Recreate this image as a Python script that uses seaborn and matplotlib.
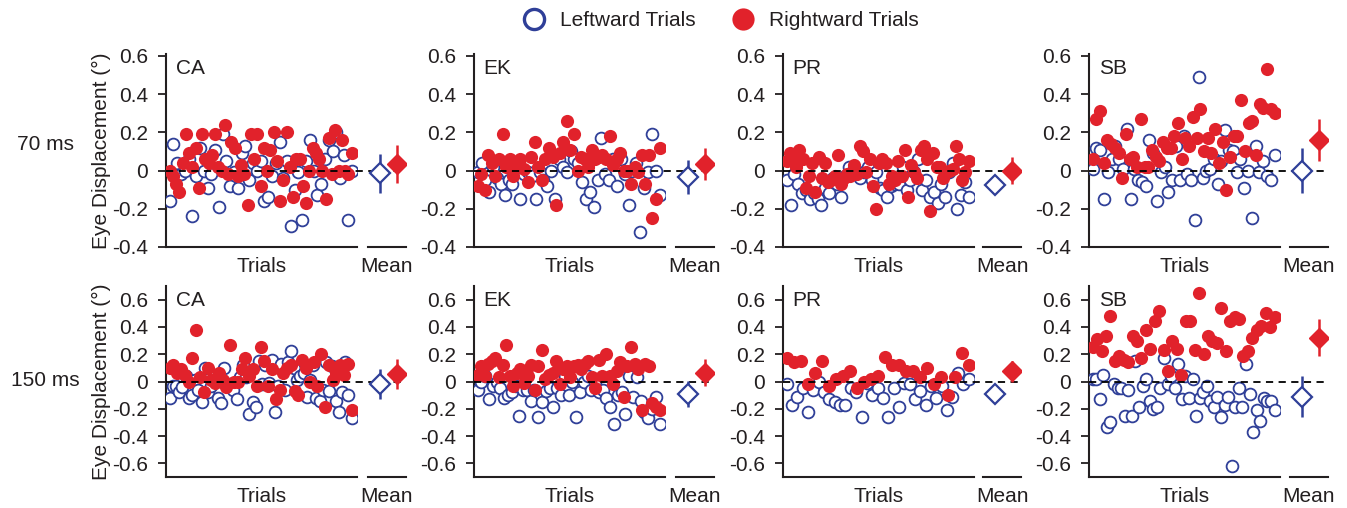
import numpy as np
import pandas as pd
import matplotlib
matplotlib.use("Agg")
import matplotlib.pyplot as plt
import seaborn as sns
from matplotlib.lines import Line2D

subjects = ["CA", "EK", "PR", "SB"]
conditions = ["70 ms", "150 ms"]

# ---------------- 70 ms ----------------
ca70_left = [-0.16, 0.14, 0.04, -0.02, 0.0, 0.06, -0.24, -0.03, 0.12, 0.0, -0.09, -0.02, 0.11, -0.19,
             0.19, 0.05, -0.08, -0.01, -0.09, 0.09, 0.13, -0.05, 0.04, 0.0, 0.05, -0.16, -0.14, -0.03,
             0.04, 0.15, -0.04, 0.05, -0.29, -0.1, -0.01, -0.26, 0.05, 0.16, 0.0, -0.13, -0.07, 0.06,
             0.16, 0.1, 0.2, -0.04, 0.08, -0.26, 0.0]
ca70_right = [0.0, -0.03, -0.07, -0.11, 0.04, 0.19, 0.09, 0.02, 0.12, -0.09, 0.19, 0.06, 0.04, 0.08,
              0.19, 0.02, 0.0, 0.24, -0.02, 0.15, 0.12, -0.03, 0.03, -0.02, -0.18, 0.19, 0.06, 0.19,
              -0.08, 0.12, 0.0, 0.11, 0.2, 0.05, -0.16, -0.05, 0.2, 0.02, -0.14, 0.06, 0.06, -0.08,
              -0.17, 0.0, 0.12, 0.09, 0.06, 0.0, -0.15, 0.17, -0.02, 0.21, 0.0, 0.16, 0.0, -0.02, 0.09]
ek70_left = [-0.01, 0.04, -0.05, -0.11, 0.02, -0.04, -0.07, -0.13, -0.05, -0.07, 0.0, -0.15, -0.02,
             -0.01, -0.03, -0.15, -0.01, -0.05, -0.08, 0.0, -0.15, 0.06, 0.02, -0.01, 0.1, 0.06, 0.04,
             -0.06, -0.15, -0.11, -0.19, -0.05, 0.17, -0.02, -0.05, 0.06, -0.08, 0.06, -0.02, -0.18,
             0.0, 0.04, -0.32, -0.09, -0.01, 0.19, 0.0, -0.13]
ek70_right = [-0.08, -0.02, -0.1, 0.08, 0.04, -0.03, 0.06, 0.19, 0.02, 0.06, -0.03, 0.02, 0.06, 0.01,
              -0.06, 0.07, 0.15, 0.02, -0.05, 0.06, 0.12, 0.07, -0.18, 0.09, 0.15, 0.26, 0.11, 0.19,
              0.0, 0.07, 0.06, 0.02, 0.11, 0.06, 0.07, 0.08, 0.06, 0.18, 0.03, 0.06, 0.09, 0.0, 0.0,
              -0.07, 0.02, -0.01, 0.08, -0.07, 0.08, -0.25, -0.15, 0.12]
pr70_left = [-0.05, -0.18, -0.02, -0.07, -0.12, -0.1, -0.15, -0.12, -0.15, -0.18, -0.09, -0.12, -0.04,
             -0.07, -0.14, -0.03, 0.02, -0.01, 0.0, -0.04, -0.01, 0.02, -0.05, -0.01, -0.09, -0.1,
             -0.14, -0.08, -0.07, -0.07, 0.02, -0.1, -0.05, -0.01, 0.06, -0.1, -0.05, -0.14, -0.11,
             -0.17, -0.07, -0.14, -0.01, 0.04, -0.2, -0.13, -0.06, -0.14]
pr70_right = [0.05, 0.09, 0.07, 0.02, 0.11, 0.06, -0.09, -0.03, 0.04, -0.11, 0.07, -0.04, 0.04, -0.06,
              -0.05, -0.03, 0.08, -0.07, -0.04, -0.02, -0.03, 0.03, -0.02, 0.13, 0.1, -0.01, 0.06,
              -0.08, -0.2, 0.04, 0.06, 0.04, -0.07, -0.03, -0.05, 0.05, -0.03, 0.11, -0.14, 0.03,
              -0.01, -0.04, 0.11, 0.13, 0.06, -0.21, 0.09, 0.02, 0.02, -0.04, -0.01, 0.0, 0.01, 0.13,
              0.06, -0.05, -0.01, 0.05]
sb70_left = [0.01, 0.12, 0.11, -0.15, -0.01, 0.06, 0.13, 0.06, 0.01, 0.22, -0.15, 0.01, -0.05, -0.06,
             -0.08, 0.16, 0.09, -0.16, -0.01, 0.02, -0.11, -0.05, 0.13, -0.05, 0.18, -0.02, -0.05,
             -0.26, 0.49, -0.04, 0.0, 0.01, 0.06, -0.07, 0.05, 0.21, 0.11, 0.1, -0.01, 0.06, -0.09,
             0.0, -0.25, 0.13, -0.01, 0.05, -0.03, -0.05, 0.08]
sb70_right = [0.06, 0.27, 0.31, 0.04, 0.16, 0.14, 0.12, 0.09, -0.04, 0.19, 0.06, 0.07, 0.02, 0.27, 0.02,
              0.02, 0.11, 0.07, 0.05, 0.15, 0.12, 0.12, 0.18, 0.25, 0.06, 0.17, 0.13, 0.28, 0.17, 0.32,
              0.1, 0.17, 0.09, 0.22, 0.04, 0.15, -0.1, 0.07, 0.18, 0.18, 0.37, 0.1, 0.25, 0.26, 0.08,
              0.35, 0.33, 0.53, 0.32, 0.3]

# ---------------- 150 ms ----------------
ca150_left = [-0.12, -0.03, -0.03, -0.08, -0.04, 0.04, -0.12, -0.1, 0.01, -0.06, -0.15, 0.1, -0.08,
              -0.03, 0.03, -0.12, -0.16, 0.1, -0.03, -0.02, -0.06, -0.13, 0.03, 0.12, 0.03, -0.24,
              -0.15, -0.19, 0.15, -0.02, 0.12, -0.01, 0.16, -0.22, -0.03, 0.13, -0.06, 0.14, 0.22,
              0.1, 0.01, 0.04, 0.06, -0.11, 0.01, 0.12, -0.12, -0.14, -0.06, 0.14, -0.07, 0.11, -0.14,
              -0.22, -0.08, 0.14, -0.1, -0.27]
ca150_right = [0.1, 0.12, 0.06, 0.09, 0.05, 0.0, 0.17, 0.38, 0.03, -0.08, 0.1, 0.01, -0.01, 0.06, 0.01,
               -0.04, 0.27, 0.0, 0.0, 0.09, 0.17, 0.04, 0.09, -0.03, 0.25, 0.15, -0.03, 0.09, -0.13,
               -0.06, 0.06, 0.1, 0.12, -0.07, -0.1, 0.16, 0.1, 0.0, 0.14, -0.03, 0.2, -0.19, 0.12,
               0.01, 0.06, 0.12, 0.05, 0.13, -0.21]
ek150_left = [-0.06, 0.0, 0.04, -0.13, -0.03, 0.0, -0.05, -0.12, -0.1, -0.08, -0.03, -0.25, -0.06,
              -0.06, -0.14, -0.06, -0.26, -0.15, -0.07, -0.05, -0.19, -0.05, -0.1, 0.04, -0.1, 0.0,
              -0.26, -0.08, 0.0, 0.04, -0.06, 0.0, -0.08, -0.06, -0.12, -0.19, -0.31, -0.1, -0.08,
              -0.24, 0.04, -0.11, 0.03, -0.14, -0.22, -0.27, -0.2, -0.11, -0.31]
ek150_right = [0.05, 0.11, 0.04, 0.13, 0.15, 0.17, 0.03, 0.12, 0.27, 0.04, -0.03, 0.06, 0.09, -0.01,
               0.04, 0.12, -0.06, 0.11, 0.23, 0.02, 0.05, 0.06, 0.15, -0.02, 0.09, 0.11, 0.03, 0.11,
               0.12, 0.09, 0.13, 0.15, 0.03, -0.05, 0.16, 0.04, 0.2, 0.04, -0.02, 0.08, 0.14, -0.11,
               0.11, 0.25, 0.13, 0.09, -0.21, 0.13, 0.11, -0.16, -0.19, -0.21]
pr150_left = [-0.02, -0.17, -0.11, -0.05, -0.22, -0.06, 0.0, -0.08, -0.13, -0.15, -0.17, -0.17, -0.05,
              -0.08, -0.26, -0.01, -0.1, -0.05, -0.12, -0.26, -0.05, -0.19, -0.01, -0.02, -0.13,
              -0.07, -0.17, -0.03, -0.12, -0.03, -0.21, -0.11, 0.06, -0.02, 0.02]
pr150_right = [0.17, 0.14, 0.15, -0.02, 0.06, 0.15, -0.03, 0.02, 0.04, 0.08, -0.05, 0.0, 0.02, 0.04,
               0.18, 0.12, 0.12, 0.08, 0.08, 0.03, 0.1, -0.02, 0.03, -0.1, 0.03, 0.21, 0.12]
sb150_left = [0.02, 0.02, -0.13, 0.05, -0.33, -0.3, -0.02, -0.05, -0.05, -0.25, -0.06, -0.25, 0.15,
              -0.19, -0.03, 0.02, -0.14, -0.2, -0.19, -0.05, 0.17, -0.02, 0.04, -0.05, 0.13, -0.13,
              0.04, -0.12, 0.02, -0.25, -0.12, -0.08, -0.03, -0.14, -0.19, -0.11, -0.26, -0.17,
              -0.11, -0.62, -0.19, -0.05, -0.19, 0.13, -0.09, -0.37, -0.21, -0.29, -0.12, -0.14,
              -0.14, -0.21]
sb150_right = [0.25, 0.31, 0.22, 0.33, 0.48, 0.15, 0.19, 0.16, 0.14, 0.33, 0.3, 0.17, 0.38, 0.24, 0.44,
               0.52, 0.23, 0.08, 0.3, 0.24, 0.05, 0.44, 0.44, 0.23, 0.65, 0.2, 0.33, 0.3, 0.28, 0.54,
               0.22, 0.44, 0.47, 0.46, 0.19, 0.22, 0.32, 0.38, 0.41, 0.5, 0.4, 0.47]

# means and error bars (CA, EK, PR, SB)
mean_left_70 = [-0.015, -0.035, -0.075, 0.0]
err_left_70 = [0.10, 0.09, 0.03, 0.12]
mean_right_70 = [0.035, 0.035, 0.0, 0.16]
err_right_70 = [0.10, 0.085, 0.07, 0.11]
mean_left_150 = [-0.02, -0.09, -0.09, -0.11]
err_left_150 = [0.11, 0.095, 0.06, 0.15]
mean_right_150 = [0.055, 0.065, 0.075, 0.32]
err_right_150 = [0.11, 0.10, 0.075, 0.135]

left_70 = [ca70_left, ek70_left, pr70_left, sb70_left]
right_70 = [ca70_right, ek70_right, pr70_right, sb70_right]
left_150 = [ca150_left, ek150_left, pr150_left, sb150_left]
right_150 = [ca150_right, ek150_right, pr150_right, sb150_right]

yticks_70 = [-0.4, -0.2, 0, 0.2, 0.4, 0.6]
yticks_150 = [-0.6, -0.4, -0.2, 0, 0.2, 0.4, 0.6]

sns.set_style("ticks")
plt.rcParams['font.family'] = ['Liberation Sans', 'DejaVu Sans']
TXT = "#231f20"
plt.rcParams['text.color'] = TXT
plt.rcParams['axes.labelcolor'] = TXT
plt.rcParams['ytick.color'] = TXT
plt.rcParams['axes.edgecolor'] = TXT

BLUE = "#2f3f98"
RED = "#e1222b"
FS = 15

W, H = 1347, 508
fig = plt.figure(figsize=(W / 100, H / 100), dpi=100)

trial_x0 = [166, 474, 783, 1089]
trial_w = 191
mean_x0 = [368, 676, 983, 1290]
mean_w = 38
row_px = [(54, 247), (286, 477)]
ylims = [(-0.4, 0.61), (-0.7, 0.7)]

rows = [
    (left_70, right_70, mean_left_70, err_left_70, mean_right_70, err_right_70, yticks_70),
    (left_150, right_150, mean_left_150, err_left_150, mean_right_150, err_right_150, yticks_150),
]

def fmt(v):
    if abs(v) < 1e-9:
        return "0"
    return ("-" if v < 0 else "") + f"{abs(v):.1f}"

for r, (lefts, rights, ml, el, mr, er, yt) in enumerate(rows):
    top, bot = row_px[r]
    for c in range(4):
        ax = fig.add_axes([trial_x0[c] / W, 1 - bot / H, trial_w / W, (bot - top) / H])
        dl = pd.DataFrame({"trial": np.linspace(0, 100, len(lefts[c])), "disp": lefts[c]})
        dr = pd.DataFrame({"trial": np.linspace(0, 100, len(rights[c])), "disp": rights[c]})
        sns.scatterplot(data=dl, x="trial", y="disp", ax=ax, marker="o", s=72,
                        facecolor="white", edgecolor=BLUE, linewidth=1.3, zorder=3)
        sns.scatterplot(data=dr, x="trial", y="disp", ax=ax, marker="o", s=90,
                        color=RED, edgecolor=RED, linewidth=0, zorder=4)
        xmax = (mean_x0[c] + mean_w - trial_x0[c]) / trial_w
        ax.axhline(0, xmin=0, xmax=xmax, color="black", lw=1.3, ls=(0, (4, 3)),
                   zorder=5, clip_on=False)
        ax.set_xlim(-2, 103)
        ax.set_ylim(*ylims[r])
        ax.set_yticks(yt)
        ax.set_yticklabels([fmt(v) for v in yt], fontsize=FS)
        ax.set_xticks([])
        ax.tick_params(axis="y", direction="out", length=6, width=1.3, pad=7)
        for s in ["top", "right"]:
            ax.spines[s].set_visible(False)
        for s in ["left", "bottom"]:
            ax.spines[s].set_linewidth(1.5)
        ax.set_xlabel("Trials", fontsize=FS, labelpad=7.5)
        if c == 0:
            ax.set_ylabel("Eye Displacement (\u00b0)", fontsize=FS, labelpad=1)
        else:
            ax.set_ylabel("")
        ax.text(0.05, 0.975, subjects[c], transform=ax.transAxes, ha="left", va="top",
                fontsize=FS)

        axm = fig.add_axes([mean_x0[c] / W, 1 - bot / H, mean_w / W, (bot - top) / H])
        axm.set_xlim(-0.7, 1.5)
        axm.set_ylim(*ylims[r])
        axm.errorbar([0], [ml[c]], yerr=[el[c]], fmt="D", ms=10, mfc="white", mec=BLUE,
                     mew=1.6, ecolor=BLUE, elinewidth=1.8, capsize=0, zorder=6)
        axm.errorbar([1], [mr[c]], yerr=[er[c]], fmt="D", ms=10, mfc=RED, mec=RED,
                     mew=1.0, ecolor=RED, elinewidth=1.8, capsize=0, zorder=6)
        axm.set_xticks([])
        axm.set_yticks([])
        for s in ["top", "right", "left"]:
            axm.spines[s].set_visible(False)
        axm.spines["bottom"].set_linewidth(1.5)
        axm.set_xlabel("Mean", fontsize=FS, labelpad=7.5)
        axm.patch.set_alpha(0)

fig.text(45 / W, 1 - 145 / H, conditions[0], ha="center", va="center", fontsize=FS)
fig.text(45 / W, 1 - 381 / H, conditions[1], ha="center", va="center", fontsize=FS)

handles = [
    Line2D([], [], ls="", marker="o", ms=14.5, mfc="white", mec=BLUE, mew=2.4),
    Line2D([], [], ls="", marker="o", ms=16, mfc=RED, mec=RED, mew=0),
]
fig.legend(handles, ["Leftward Trials", "Rightward Trials"], loc="center",
           bbox_to_anchor=(719 / W, 1 - 21 / H), ncol=2, frameon=False, fontsize=FS,
           columnspacing=1.6, handletextpad=0.55, handlelength=1.4, borderpad=0)

fig.savefig("out.png", dpi=100)
